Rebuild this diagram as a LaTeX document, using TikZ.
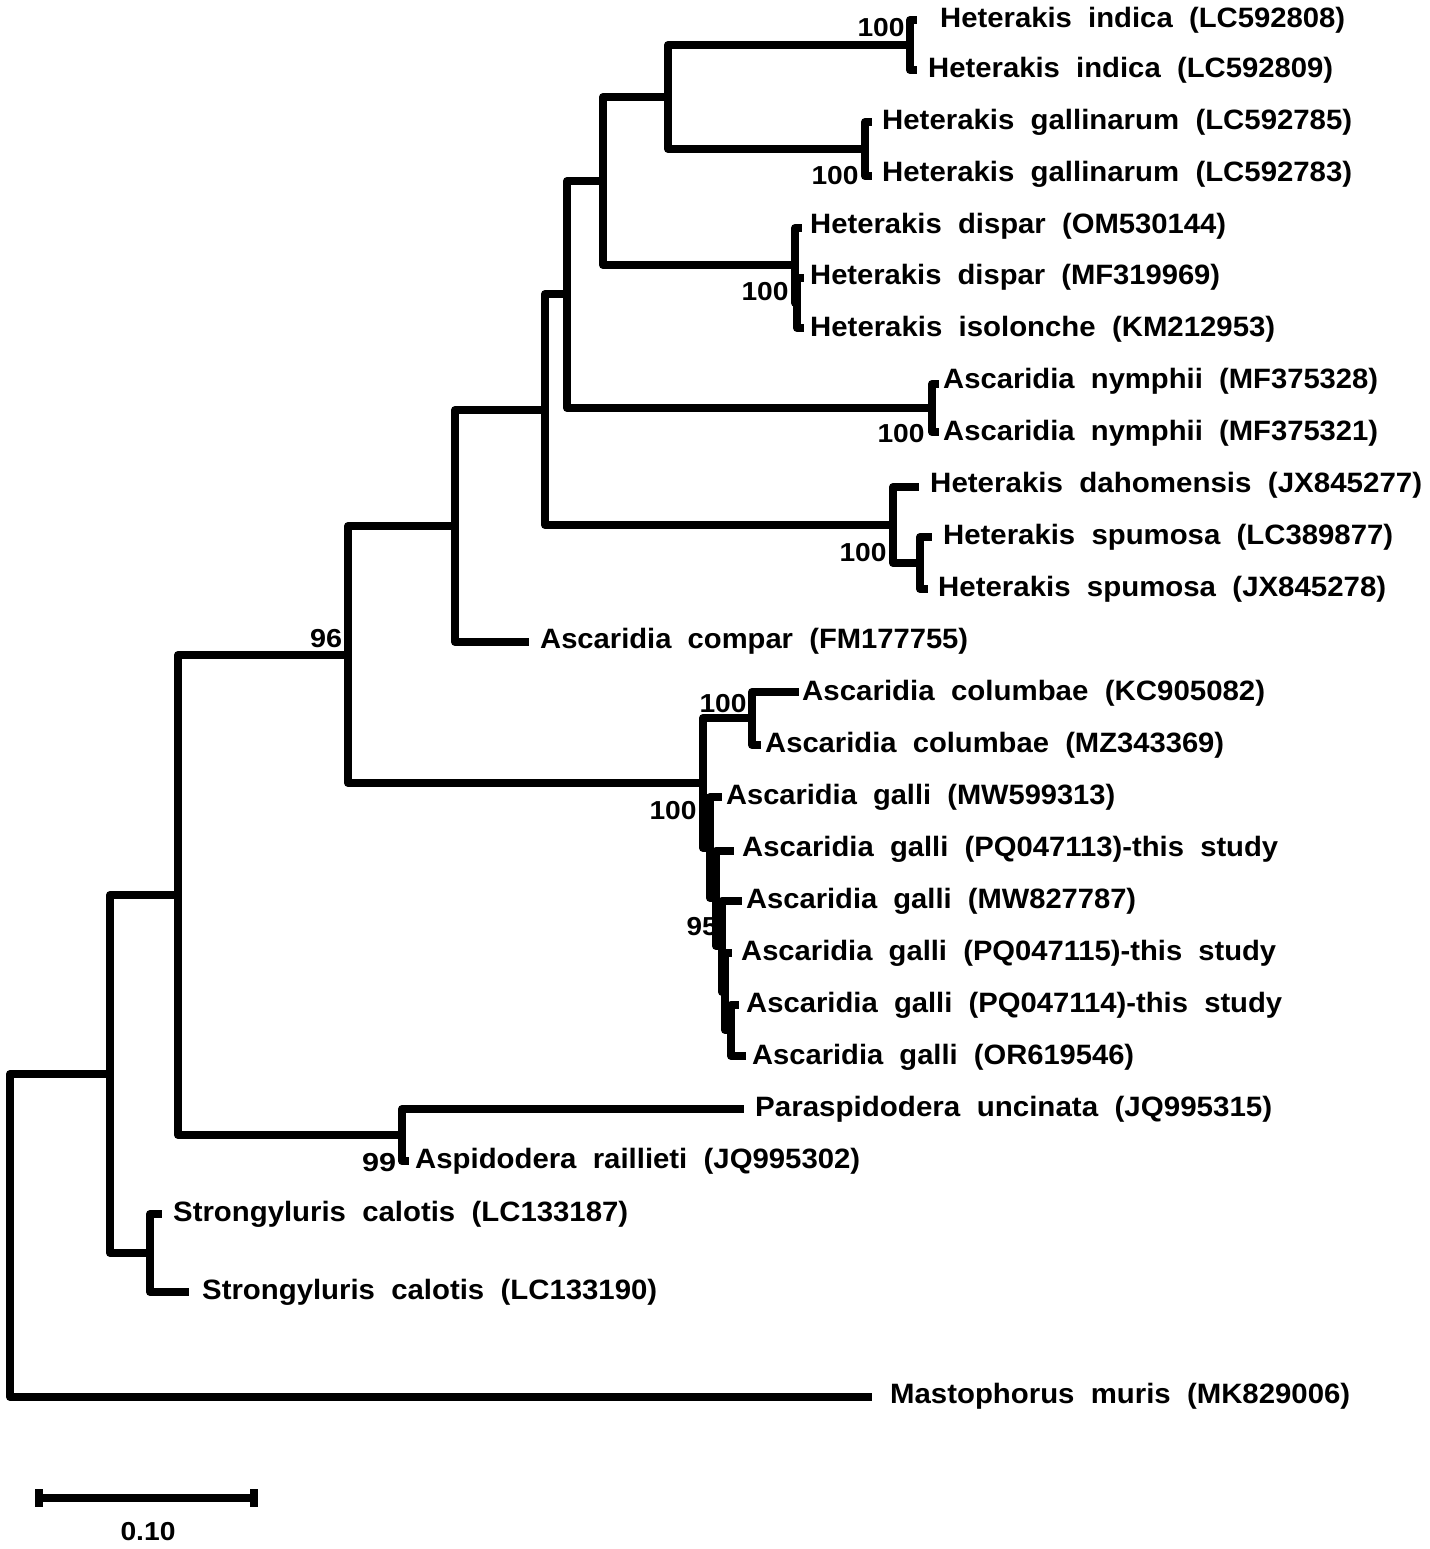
\documentclass[tikz,border=0pt]{standalone}
\usepackage{fontspec}
\setmainfont{Liberation Sans}
\usepackage{graphicx}
\newcommand{\lab}[2]{\resizebox{#1pt}{\height}{#2}}
\newcommand{\ws}{\ \ }
\begin{document}
\begin{tikzpicture}[x=1pt,y=-1pt,
  br/.style={line width=8pt, line join=round, line cap=rect},
  leaf/.style={anchor=west, inner sep=0pt, font=\fontsize{28}{32}\selectfont\bfseries},
  bs/.style={inner sep=0pt, font=\fontsize{26}{30}\selectfont\bfseries}]
\useasboundingbox (0,0) rectangle (1429,1549);
% tips
\coordinate (l1) at (913,20);   \coordinate (l2) at (913,70);
\coordinate (l3) at (868,122);  \coordinate (l4) at (868,176);
\coordinate (l5) at (798,228);  \coordinate (l6) at (800,278);  \coordinate (l7) at (800,328);
\coordinate (l8) at (935,384);  \coordinate (l9) at (935,432);
\coordinate (l10) at (915,487); \coordinate (l11) at (928,537); \coordinate (l12) at (924,589);
\coordinate (l13) at (525,642);
\coordinate (l14) at (795,692); \coordinate (l15) at (757,745);
\coordinate (l16) at (718,797); \coordinate (l17) at (730,851); \coordinate (l18) at (738,901);
\coordinate (l19) at (728,953); \coordinate (l20) at (735,1005); \coordinate (l21) at (742,1056);
\coordinate (l22) at (740,1109); \coordinate (l23) at (405,1161);
\coordinate (l24) at (158,1214); \coordinate (l25) at (185,1292);
\coordinate (l26) at (868,1397);
% internal nodes
\coordinate (nI) at (910,45);   \coordinate (nG) at (865,149);  \coordinate (nIG) at (668,97);
\coordinate (nD2) at (797,303); \coordinate (nD) at (795,265);  \coordinate (nA) at (603,181);
\coordinate (nN) at (932,408);  \coordinate (nB) at (567,294);
\coordinate (nS2) at (920,563); \coordinate (nS) at (893,525);  \coordinate (nC) at (545,410);
\coordinate (nE) at (455,526);
\coordinate (nCol) at (752,718);
\coordinate (nG5) at (731,1030); \coordinate (nG4) at (725,992); \coordinate (nG3) at (722,946);
\coordinate (nG2) at (716,898);  \coordinate (nG1) at (710,848); \coordinate (nAsc) at (703,783);
\coordinate (nE2) at (348,655);
\coordinate (nP) at (402,1135); \coordinate (nF) at (178,895);
\coordinate (nSt) at (150,1253); \coordinate (nH) at (110,1074);
\coordinate (root) at (10,1235);
% branches
\foreach \p/\c in {nI/l1,nI/l2,nG/l3,nG/l4,nIG/nI,nIG/nG,nD2/l6,nD2/l7,nD/l5,nD/nD2,
  nA/nIG,nA/nD,nN/l8,nN/l9,nB/nA,nB/nN,nS2/l11,nS2/l12,nS/l10,nS/nS2,nC/nB,nC/nS,
  nE/nC,nE/l13,nCol/l14,nCol/l15,nG5/l20,nG5/l21,nG4/l19,nG4/nG5,nG3/l18,nG3/nG4,
  nG2/l17,nG2/nG3,nG1/l16,nG1/nG2,nAsc/nCol,nAsc/nG1,nE2/nE,nE2/nAsc,nP/l22,nP/l23,
  nF/nE2,nF/nP,nSt/l24,nSt/l25,nH/nF,nH/nSt,root/nH,root/l26}
  \draw[br] (\p) |- (\c);
% leaf labels
\node[leaf] (t1) at (940,20) {\lab{405}{Heterakis\ws indica\ws (LC592808)}};
\node[leaf] (t2) at (928,70) {\lab{405}{Heterakis\ws indica\ws (LC592809)}};
\node[leaf] (t3) at (882,122) {\lab{470}{Heterakis\ws gallinarum\ws (LC592785)}};
\node[leaf] (t4) at (882,174) {\lab{470}{Heterakis\ws gallinarum\ws (LC592783)}};
\node[leaf] (t5) at (810,226) {\lab{416}{Heterakis\ws dispar\ws (OM530144)}};
\node[leaf] (t6) at (810,277) {\lab{410}{Heterakis\ws dispar\ws (MF319969)}};
\node[leaf] (t7) at (810,329) {\lab{465}{Heterakis\ws isolonche\ws (KM212953)}};
\node[leaf] (t8) at (943,381) {\lab{435}{Ascaridia\ws nymphii\ws (MF375328)}};
\node[leaf] (t9) at (943,433) {\lab{435}{Ascaridia\ws nymphii\ws (MF375321)}};
\node[leaf] (t10) at (930,485) {\lab{492}{Heterakis\ws dahomensis\ws (JX845277)}};
\node[leaf] (t11) at (943,537) {\lab{450}{Heterakis\ws spumosa\ws (LC389877)}};
\node[leaf] (t12) at (938,589) {\lab{448}{Heterakis\ws spumosa\ws (JX845278)}};
\node[leaf] (t13) at (540,641) {\lab{428}{Ascaridia\ws compar\ws (FM177755)}};
\node[leaf] (t14) at (802,693) {\lab{463}{Ascaridia\ws columbae\ws (KC905082)}};
\node[leaf] (t15) at (765,745) {\lab{459}{Ascaridia\ws columbae\ws (MZ343369)}};
\node[leaf] (t16) at (726,797) {\lab{389}{Ascaridia\ws galli\ws (MW599313)}};
\node[leaf] (t17) at (742,849) {\lab{536}{Ascaridia\ws galli\ws (PQ047113)-this\ws study}};
\node[leaf] (t18) at (746,901) {\lab{390}{Ascaridia\ws galli\ws (MW827787)}};
\node[leaf] (t19) at (741,953) {\lab{535}{Ascaridia\ws galli\ws (PQ047115)-this\ws study}};
\node[leaf] (t20) at (746,1005) {\lab{536}{Ascaridia\ws galli\ws (PQ047114)-this\ws study}};
\node[leaf] (t21) at (752,1057) {\lab{382}{Ascaridia\ws galli\ws (OR619546)}};
\node[leaf] (t22) at (755,1109) {\lab{517}{Paraspidodera\ws uncinata\ws (JQ995315)}};
\node[leaf] (t23) at (415,1161) {\lab{445}{Aspidodera\ws raillieti\ws (JQ995302)}};
\node[leaf] (t24) at (173,1214) {\lab{455}{Strongyluris\ws calotis\ws (LC133187)}};
\node[leaf] (t25) at (202,1292) {\lab{455}{Strongyluris\ws calotis\ws (LC133190)}};
\node[leaf] (t26) at (890,1396) {\lab{460}{Mastophorus\ws muris\ws (MK829006)}};
% bootstrap values
\node[bs] (b1) at (881,28) {\lab{47}{100}};
\node[bs] (b2) at (835,176) {\lab{47}{100}};
\node[bs] (b3) at (765,292) {\lab{47}{100}};
\node[bs] (b4) at (901,434) {\lab{47}{100}};
\node[bs] (b5) at (863,553) {\lab{47}{100}};
\node[bs] (b6) at (326,639) {\lab{32}{96}};
\node[bs] (b7) at (723,704) {\lab{47}{100}};
\node[bs] (b8) at (673,811) {\lab{47}{100}};
\node[bs] (b9) at (702,927) {\lab{31}{95}};
\node[bs] (b10) at (379,1163) {\lab{34}{99}};
% scale bar
\coordinate (sbL) at (39,1498); \coordinate (sbR) at (254,1498);
\draw[line width=8pt] (sbL) -- (sbR);
\draw[line width=8pt] (sbL) ++(0,-9) -- ++(0,18);
\draw[line width=8pt] (sbR) ++(0,-9) -- ++(0,18);
\node[bs] (sbt) at (148,1532) {\lab{55}{0.10}};
\end{tikzpicture}
\end{document}
